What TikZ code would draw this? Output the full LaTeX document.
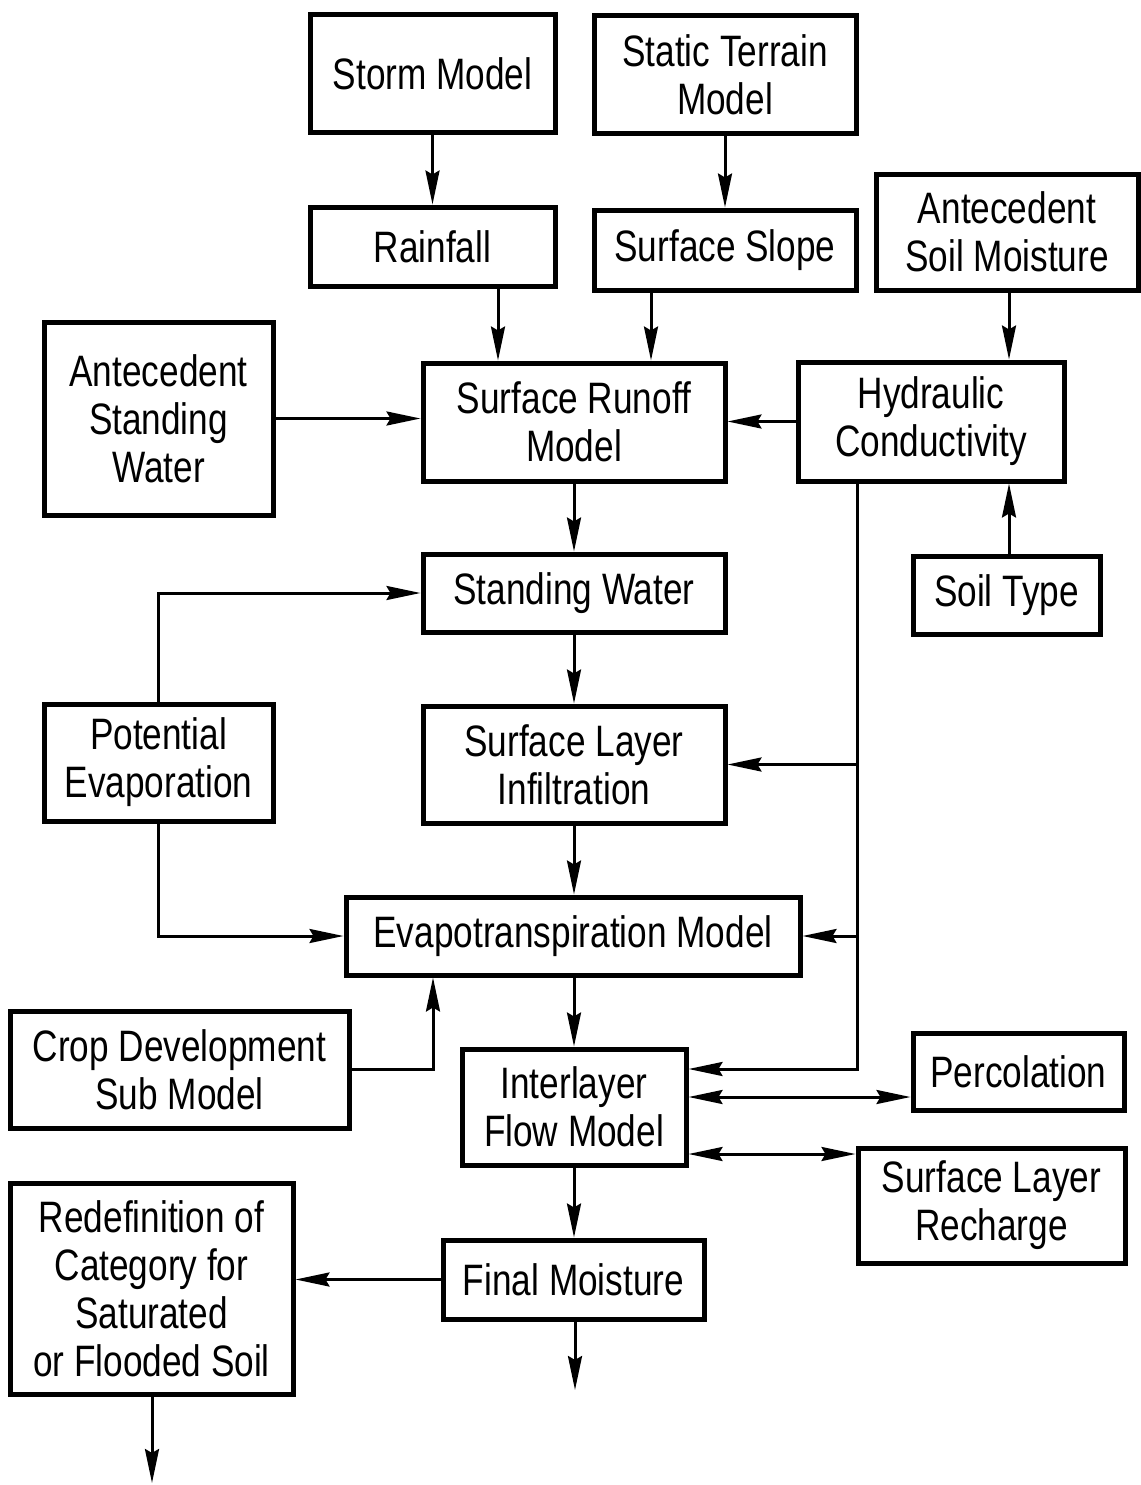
\documentclass[tikz,border=0pt]{standalone}
\usepackage{fontspec}
\setmainfont{Liberation Sans}[FakeStretch=0.8]
\usetikzlibrary{arrows.meta}
\begin{document}
\begin{tikzpicture}[x=1pt,y=-1pt,
  box/.style={draw,line width=5pt,inner sep=0pt,align=center,
    font=\fontsize{44}{48}\selectfont},
  arr/.style={line width=3pt,-{Stealth[length=34pt,width=14pt,inset=4pt]}},
  darr/.style={line width=3pt,{Stealth[length=34pt,width=14pt,inset=4pt]}-{Stealth[length=34pt,width=14pt,inset=4pt]}}]
\useasboundingbox (0,0) rectangle (1140,1485);
% nodes
\node[box,minimum width=245pt,minimum height=118pt] (storm) at (432.5,74) {Storm Model};
\node[box,minimum width=262pt,minimum height=118pt] (static) at (725,75) {Static Terrain\\Model};
\node[box,minimum width=245pt,minimum height=79pt] (rain) at (432.5,246.5) {Rainfall};
\node[box,minimum width=262pt,minimum height=80pt] (slope) at (725,250) {Surface Slope};
\node[box,minimum width=262pt,minimum height=116pt] (antsoil) at (1007,232) {Antecedent\\Soil Moisture};
\node[box,minimum width=229pt,minimum height=193pt] (antstand) at (158.5,418.5) {Antecedent\\Standing\\Water};
\node[box,minimum width=302pt,minimum height=118pt] (runoff) at (574,422) {Surface Runoff\\Model};
\node[box,minimum width=266pt,minimum height=119pt] (hyd) at (931,421.5) {Hydraulic\\Conductivity};
\node[box,minimum width=302pt,minimum height=78pt] (sw) at (574,593) {Standing Water};
\node[box,minimum width=187pt,minimum height=78pt] (soil) at (1006.5,595) {Soil Type};
\node[box,minimum width=229pt,minimum height=117pt] (pe) at (158.5,762.5) {Potential\\Evaporation};
\node[box,minimum width=302pt,minimum height=117pt] (infil) at (574,764.5) {Surface Layer\\Infiltration};
\node[box,minimum width=454pt,minimum height=78pt] (evapo) at (573,936) {Evapotranspiration Model};
\node[box,minimum width=339pt,minimum height=117pt] (crop) at (179.5,1069.5) {Crop Development\\Sub Model};
\node[box,minimum width=224pt,minimum height=116pt] (inter) at (574,1107) {Interlayer\\Flow Model};
\node[box,minimum width=211pt,minimum height=77pt] (perc) at (1018.5,1071.5) {Percolation};
\node[box,minimum width=267pt,minimum height=115pt] (rech) at (991.5,1205.5) {Surface Layer\\Recharge};
\node[box,minimum width=261pt,minimum height=79pt] (final) at (573.5,1279.5) {Final Moisture};
\node[box,minimum width=283pt,minimum height=211pt] (redef) at (151.5,1288.5) {Redefinition of\\Category for\\Saturated\\or Flooded Soil};
% helper coordinates
\coordinate (xr) at (498,0);
\coordinate (xs) at (651,0);
\coordinate (xa) at (1009,0);
\coordinate (xh) at (857,0);
\coordinate (xc) at (433,0);
\coordinate (yi) at (0,1069);
\coordinate (yp) at (0,1097);
\coordinate (yq) at (0,1154);
\coordinate (fend) at (575,1390);
\coordinate (rend) at (152,1483);
% connectors
\draw[arr] (storm.south) -- (rain.north);
\draw[arr] (static.south) -- (slope.north);
\draw[arr] (rain.south -| xr) -- (runoff.north -| xr);
\draw[arr] (slope.south -| xs) -- (runoff.north -| xs);
\draw[arr] (antsoil.south -| xa) -- (hyd.north -| xa);
\draw[arr] (soil.north -| xa) -- (hyd.south -| xa);
\draw[arr] (antstand.east) -- (antstand.east -| runoff.west);
\draw[arr] (hyd.west) -- (hyd.west -| runoff.east);
\draw[arr] (hyd.south -| xh) |- (inter.east |- yi);
\draw[arr] (infil.east -| xh) -- (infil.east);
\draw[arr] (evapo.east -| xh) -- (evapo.east);
\draw[arr] (runoff.south) -- (runoff.south |- sw.north);
\draw[arr] (sw.south) -- (sw.south |- infil.north);
\draw[arr] (infil.south) -- (infil.south |- evapo.north);
\draw[arr] (evapo.south -| inter.north) -- (inter.north);
\draw[arr] (inter.south) -- (inter.south |- final.north);
\draw[arr] (final.south -| fend) -- (fend);
\draw[arr] (pe.north) |- (sw.west);
\draw[arr] (pe.south) |- (evapo.west);
\draw[arr] (crop.east) -| (evapo.south -| xc);
\draw[darr] (inter.east |- yp) -- (perc.west |- yp);
\draw[darr] (inter.east |- yq) -- (rech.west |- yq);
\draw[arr] (final.west) -- (final.west -| redef.east);
\draw[arr] (redef.south -| rend) -- (rend);
\end{tikzpicture}
\end{document}
